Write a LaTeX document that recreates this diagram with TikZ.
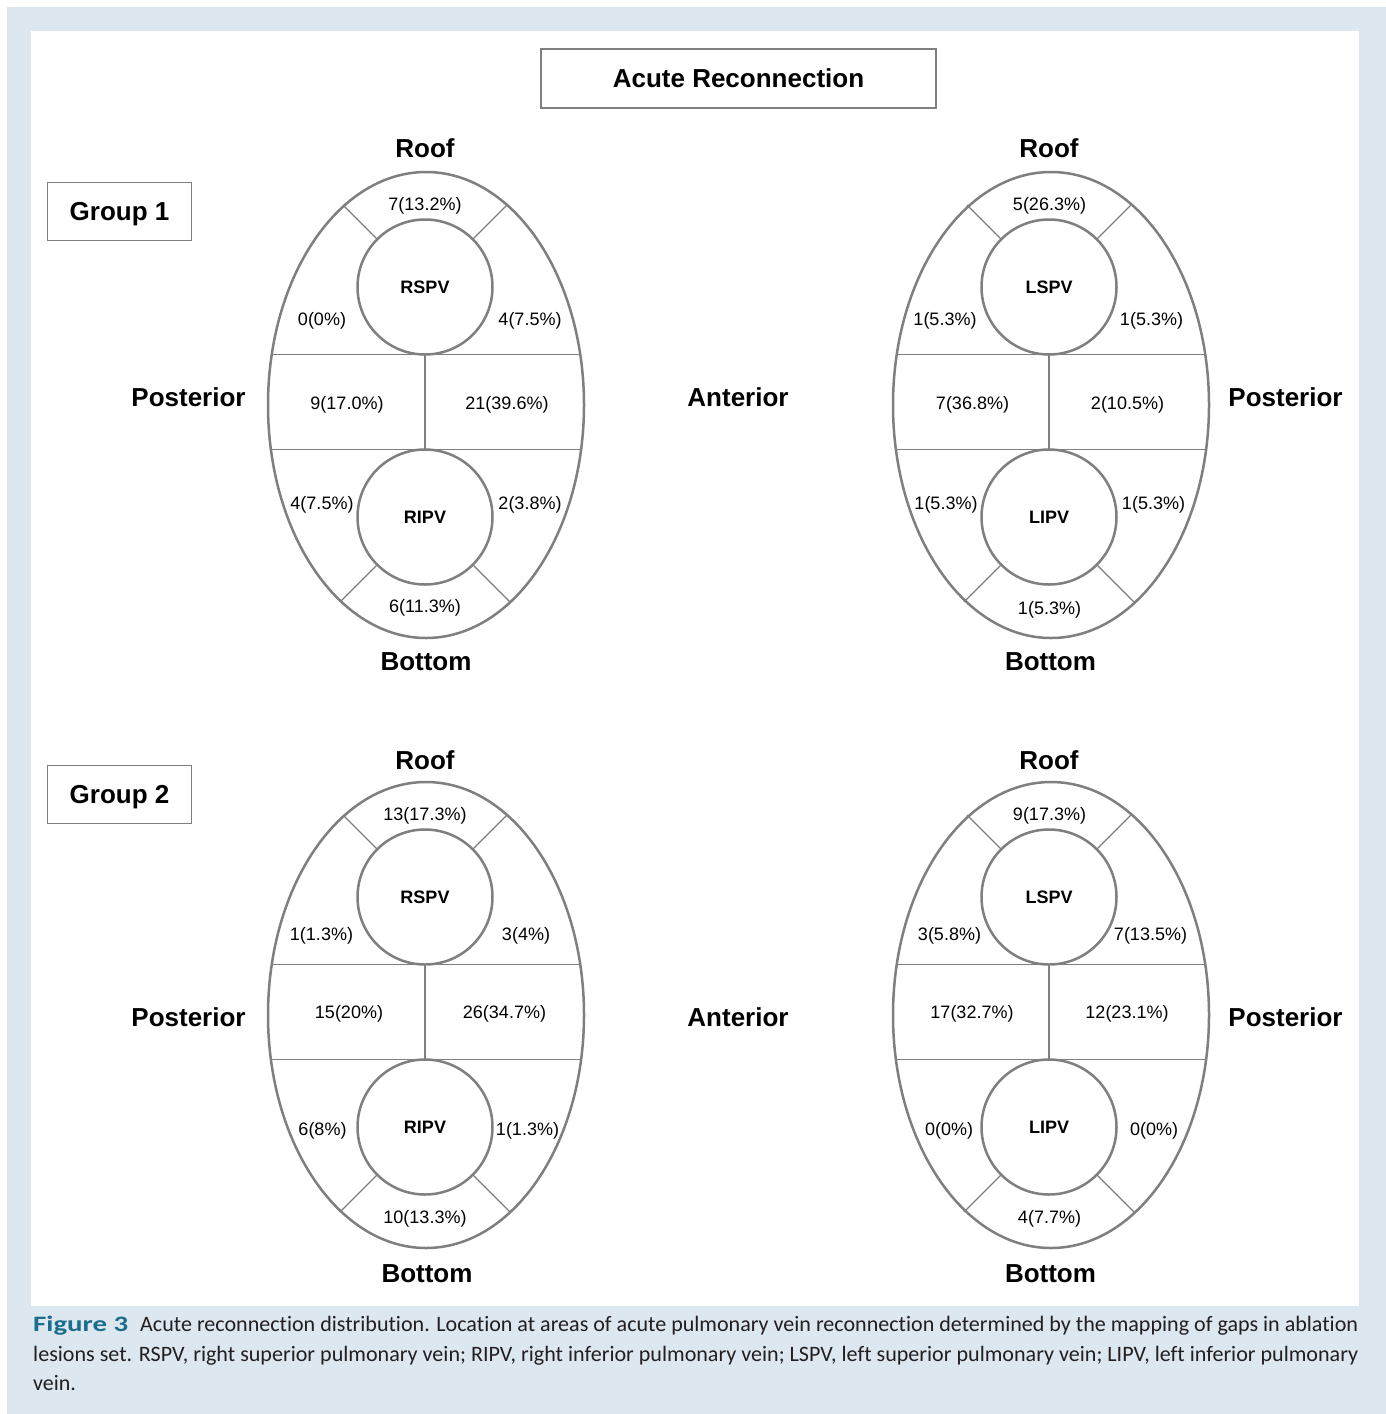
\documentclass[tikz,border=0pt]{standalone}
\usepackage{fontspec}
\usepackage{graphicx}
\setmainfont{Liberation Sans}
\newfontfamily\capfont[Ligatures={NoCommon}]{Carlito}
\definecolor{panel}{HTML}{DDE7F0}
\definecolor{linegray}{HTML}{7F7F7F}
\definecolor{figteal}{HTML}{1A6D8C}
\definecolor{captext}{HTML}{231F20}
\newcommand\pvmap[6]{%
  \node[vein] (#1up) at (#4,#3-118) {#5};
  \node[vein] (#1lo) at (#4,#3+112) {#6};
  \coordinate (#1ul) at (#4-82,#3-200);
  \coordinate (#1ur) at (#4+82,#3-200);
  \coordinate (#1ll) at (#4-85,#3+197);
  \coordinate (#1lr) at (#4+85,#3+197);
  \coordinate (#1ha) at (#2-154.2,#3-50.5);
  \coordinate (#1hb) at (#2+154.2,#3-50.5);
  \coordinate (#1hc) at (#2-155.1,#3+44.5);
  \coordinate (#1hd) at (#2+155.1,#3+44.5);
  \draw[thinline] (#1up.135) -- (#1ul);
  \draw[thinline] (#1up.45) -- (#1ur);
  \draw[thinline] (#1lo.225) -- (#1ll);
  \draw[thinline] (#1lo.315) -- (#1lr);
  \draw[midline] (#1ha) -- (#1hb);
  \draw[midline] (#1hc) -- (#1hd);
  \draw[midline] (#1up.south) -- (#1lo.north);
  \draw[outline] (#2,#3) ellipse [x radius=158pt, y radius=233pt];
}
\begin{document}
\begin{tikzpicture}[x=1pt,y=-1pt,
  outline/.style={draw=linegray, line width=2.5pt},
  thinline/.style={draw=linegray, line width=1.1pt},
  midline/.style={draw=linegray, line width=1.4pt},
  vein/.style={circle, draw=linegray, line width=2.5pt, minimum size=135pt, inner sep=0pt, outer sep=0pt, font=\bfseries\fontsize{18}{21}\selectfont},
  num/.style={anchor=base, inner sep=0pt, font=\fontsize{18}{21}\selectfont},
  big/.style={anchor=base, inner sep=0pt, font=\bfseries\fontsize{26}{30}\selectfont},
  frame/.style={draw=linegray, line width=1.5pt, inner sep=0pt, outer sep=0pt, text height=18.6pt, text depth=0pt, font=\bfseries\fontsize{26}{30}\selectfont},
  capline/.style={anchor=base west, inner sep=0pt, text=captext, font=\capfont\fontsize{22}{26}\selectfont},
]
\useasboundingbox (0,0) rectangle (1386,1414);
\fill[white] (0,0) rectangle (1386,1414);
\fill[panel] (7,7) rectangle (1386,1414);
\fill[white] (31,31) rectangle (1359,1306);

% title and group boxes
\node[frame, minimum width=395pt, minimum height=59pt] (title) at (738.5,78.5) {Acute Reconnection};
\node[frame, minimum width=144pt, minimum height=58pt] (grp1) at (119.5,211.5) {Group 1};
\node[frame, minimum width=144pt, minimum height=58pt] (grp2) at (119.5,794.5) {Group 2};

% vein maps
\pvmap{a}{426}{405}{425}{RSPV}{RIPV}
\pvmap{b}{1051}{405}{1049}{LSPV}{LIPV}
\pvmap{c}{426}{1015}{425}{RSPV}{RIPV}
\pvmap{d}{1051}{1015}{1049}{LSPV}{LIPV}

% orientation labels
\node[big] (roofa) at (425,157) {Roof};
\node[big] (roofb) at (1049,157) {Roof};
\node[big] (roofc) at (425,769) {Roof};
\node[big] (roofd) at (1049,769) {Roof};
\node[big] (bota) at (426,670) {Bottom};
\node[big] (botb) at (1050.5,670) {Bottom};
\node[big] (botc) at (427,1282) {Bottom};
\node[big] (botd) at (1050.5,1282) {Bottom};
\node[big] (posta) at (188.5,406) {Posterior};
\node[big] (anta) at (738,406) {Anterior};
\node[big] (postb) at (1285.5,406) {Posterior};
\node[big] (postc) at (188.5,1026) {Posterior};
\node[big] (antc) at (738,1026) {Anterior};
\node[big] (postd) at (1285.5,1026) {Posterior};

% group 1 left
\node[num] (a1) at (425,210) {7(13.2\%)};
\node[num] (a2) at (322,325.5) {0(0\%)};
\node[num] (a3) at (530,325.5) {4(7.5\%)};
\node[num] (a4) at (347,409) {9(17.0\%)};
\node[num] (a5) at (507,409) {21(39.6\%)};
\node[num] (a6) at (322,509.5) {4(7.5\%)};
\node[num] (a7) at (530,509.5) {2(3.8\%)};
\node[num] (a8) at (425,612.5) {6(11.3\%)};
% group 1 right
\node[num] (b1) at (1049.5,210) {5(26.3\%)};
\node[num] (b2) at (945,325.5) {1(5.3\%)};
\node[num] (b3) at (1151.5,325.5) {1(5.3\%)};
\node[num] (b4) at (972.5,409) {7(36.8\%)};
\node[num] (b5) at (1127.5,409) {2(10.5\%)};
\node[num] (b6) at (946,509.5) {1(5.3\%)};
\node[num] (b7) at (1153.5,509.5) {1(5.3\%)};
\node[num] (b8) at (1049.5,614) {1(5.3\%)};
% group 2 left
\node[num] (c1) at (425,820) {13(17.3\%)};
\node[num] (c2) at (321.5,940) {1(1.3\%)};
\node[num] (c3) at (526,940) {3(4\%)};
\node[num] (c4) at (349,1018) {15(20\%)};
\node[num] (c5) at (504.5,1018) {26(34.7\%)};
\node[num] (c6) at (322.5,1135) {6(8\%)};
\node[num] (c7) at (527.5,1135) {1(1.3\%)};
\node[num] (c8) at (425,1223) {10(13.3\%)};
% group 2 right
\node[num] (d1) at (1049.5,820) {9(17.3\%)};
\node[num] (d2) at (949.5,940) {3(5.8\%)};
\node[num] (d3) at (1150.5,940) {7(13.5\%)};
\node[num] (d4) at (972,1018) {17(32.7\%)};
\node[num] (d5) at (1127,1018) {12(23.1\%)};
\node[num] (d6) at (949,1135) {0(0\%)};
\node[num] (d7) at (1154,1135) {0(0\%)};
\node[num] (d8) at (1049.5,1223) {4(7.7\%)};

% caption
\node[capline, text=figteal, font=\capfont\bfseries\fontsize{22}{26}\selectfont] (figlab) at (33,1331) {\resizebox{95pt}{\height}{Figure 3}};
\node[capline] (cap1) at (140,1331) {\resizebox{1218pt}{\height}{Acute reconnection distribution. Location at areas of acute pulmonary vein reconnection determined by the mapping of gaps in ablation}};
\node[capline] (cap2) at (33,1361) {\resizebox{1325pt}{\height}{lesions set. RSPV, right superior pulmonary vein; RIPV, right inferior pulmonary vein; LSPV, left superior pulmonary vein; LIPV, left inferior pulmonary}};
\node[capline] (cap3) at (33,1390) {vein.};
\end{tikzpicture}
\end{document}
